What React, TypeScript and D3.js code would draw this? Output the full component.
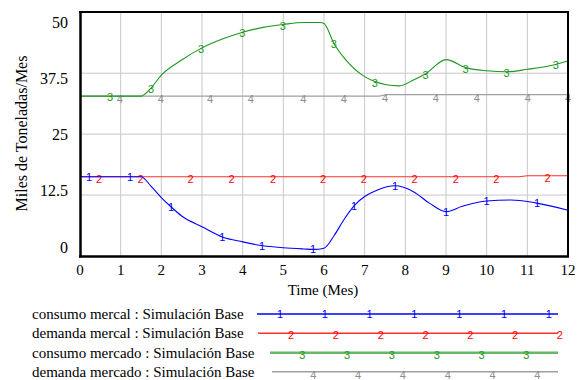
import React from "react";
import * as d3 from "d3";

const xTicks = [0, 1, 2, 3, 4, 5, 6, 7, 8, 9, 10, 11, 12];
const yTicks = [0, 12.5, 25, 37.5, 50];
const yTickLabels = ["0", "12.5", "25", "37.5", "50"];

const blueT = [0, 1.5, 1.75, 2, 2.25, 2.5, 3, 3.5, 4, 4.5, 5, 5.5, 5.75, 6, 6.25, 6.5, 6.75, 7, 7.3, 7.75, 8.2, 8.6, 9, 9.4, 10, 10.6, 11.2, 12];
const blueV = [16.25, 16.25, 14.3, 12.0, 10.0, 8.2, 6.0, 3.9, 2.9, 2.1, 1.7, 1.45, 1.35, 1.6, 4.2, 7.6, 10.4, 12.2, 13.5, 14.4, 13.2, 10.8, 9.1, 10.2, 11.3, 11.5, 10.9, 9.4];
const redT = [0, 10.8, 11, 12];
const redV = [16.25, 16.25, 16.45, 16.45];
const greenT = [0, 1.5, 1.75, 2, 2.5, 3, 3.5, 4, 4.5, 5, 5.5, 5.9, 6, 6.25, 6.5, 7, 7.25, 7.5, 7.85, 8.2, 8.5, 9, 9.5, 10, 10.5, 11, 11.7, 12];
const greenV = [32.8, 32.8, 34.5, 37.1, 40.2, 42.7, 44.5, 45.9, 46.9, 47.5, 47.9, 47.9, 47.7, 43.5, 40.6, 36.8, 35.8, 35.2, 34.9, 36.1, 37.4, 40.3, 38.6, 38.0, 37.8, 38.3, 39.3, 40.0];
const grayT = [0, 7.35, 7.55, 12];
const grayV = [32.8, 32.8, 33.1, 33.1];

const blueMarks = [0.22, 1.23, 2.24, 3.5, 4.48, 5.73, 6.74, 7.75, 9.0, 10.0, 11.24];
const redMarks = [0.47, 1.49, 2.72, 3.73, 4.75, 5.98, 6.98, 8.23, 9.24, 10.24, 11.5];
const greenMarks = [0.74, 1.75, 2.98, 3.99, 4.99, 6.24, 7.25, 8.5, 9.48, 10.49, 11.7];
const grayMarks = [0.98, 1.99, 3.2, 4.2, 5.49, 6.49, 7.5, 8.75, 9.76, 11.01, 12];

const legendLabels = [
  "consumo mercal : Simulación Base",
  "demanda mercal : Simulación Base",
  "consumo mercado : Simulación Base",
  "demanda mercado : Simulación Base",
];

const serif = "'Liberation Serif', 'Times New Roman', serif";
const sans = "'Liberation Sans', Arial, sans-serif";

const series = [
  { t: grayT, v: grayV, marks: grayMarks, digit: "4", color: "#a0a0a0", mcolor: "#8c8c8c", dy: 3, w: 1.2 },
  { t: greenT, v: greenV, marks: greenMarks, digit: "3", color: "#1e961e", mcolor: "#1e961e", dy: 1, w: 1.1 },
  { t: redT, v: redV, marks: redMarks, digit: "2", color: "#ff3030", mcolor: "#ff0000", dy: 2.5, w: 1.1 },
  { t: blueT, v: blueV, marks: blueMarks, digit: "1", color: "#0000ff", mcolor: "#0000ff", dy: 0, w: 1.1 },
];

const legendStyle = [
  { color: "#0000ff", w: 1.5, digit: "1", x0: 257, y: 314, off: 0, dy: 0, mcolor: "#0000ff" },
  { color: "#ff3030", w: 1.5, digit: "2", x0: 258, y: 333.3, off: 11.1, dy: 2, mcolor: "#ff0000" },
  { color: "#66b866", w: 2.6, digit: "3", x0: 270, y: 352.7, off: 22.3, dy: 2, mcolor: "#1e961e" },
  { color: "#a0a0a0", w: 1.5, digit: "4", x0: 272, y: 371.7, off: 33.3, dy: 3, mcolor: "#8c8c8c" },
];

export default function App() {
  const x = d3.scaleLinear().domain([0, 12]).range([80, 568]);
  const y = d3.scaleLinear().domain([0, 50]).range([256, 12.3]);
  const yLab = d3.scaleLinear().domain([0, 50]).range([247, 22]);

  const line = d3
    .line<[number, number]>()
    .x((d) => x(d[0]))
    .y((d) => y(d[1]))
    .curve(d3.curveMonotoneX);

  return (
    <svg width={581} height={380} style={{ position: "absolute", left: 0, top: 0, background: "#fff" }}>
      <rect width={581} height={380} fill="#fff" />
      {/* grid */}
      {xTicks.slice(1, -1).map((t) => (
        <line key={"gx" + t} x1={x(t)} x2={x(t)} y1={12} y2={256} stroke="#c8c8c8" strokeWidth={1} />
      ))}
      {yTicks.slice(1, -1).map((t) => (
        <line key={"gy" + t} x1={80} x2={568} y1={y(t)} y2={y(t)} stroke="#c8c8c8" strokeWidth={1} />
      ))}
      {/* series */}
      {series.map((s, i) => {
        const pts: [number, number][] = s.t.map((t, j) => [t, s.v[j]]);
        const interp = d3.scaleLinear().domain(s.t).range(s.v);
        return (
          <g key={"s" + i}>
            <path d={line(pts) || ""} fill="none" stroke={s.color} strokeWidth={s.w} />
            {s.marks.map((m, j) => (
              <text
                key={j}
                x={x(m)}
                y={y(interp(m)) + s.dy}
                fill={s.mcolor}
                fontFamily={sans}
                fontSize={11}
                textAnchor="middle"
                dominantBaseline="central"
              >
                {s.digit}
              </text>
            ))}
          </g>
        );
      })}
      {/* frame */}
      <line x1={79} x2={569} y1={12} y2={12} stroke="#000" strokeWidth={2} />
      <line x1={568} x2={568} y1={11} y2={257} stroke="#000" strokeWidth={2} />
      <line x1={80.5} x2={80.5} y1={11} y2={257.5} stroke="#000" strokeWidth={2.5} />
      <line x1={79} x2={569} y1={256.5} y2={256.5} stroke="#000" strokeWidth={2.5} />
      {/* ticks */}
      {xTicks.map((t) => (
        <text key={"xt" + t} x={x(t)} y={274.5} textAnchor="middle" fontFamily={serif} fontSize={15} fill="#000">
          {t}
        </text>
      ))}
      {yTicks.map((t, i) => (
        <text key={"yt" + t} x={68} y={yLab(t) + 5.5} textAnchor="end" fontFamily={serif} fontSize={16} fill="#000">
          {yTickLabels[i]}
        </text>
      ))}
      <text x={323} y={295} textAnchor="middle" fontFamily={serif} fontSize={15} fill="#000">
        Time (Mes)
      </text>
      <text
        transform="translate(21,133.5) rotate(-90)"
        textAnchor="middle"
        dominantBaseline="central"
        fontFamily={serif}
        fontSize={16}
        fill="#000"
      >
        Miles de Toneladas/Mes
      </text>
      {/* legend */}
      {legendLabels.map((lab, i) => {
        const ls = legendStyle[i];
        const n = i < 2 ? 7 : 6;
        return (
          <g key={"lg" + i}>
            <text x={32} y={ls.y + 5} fontFamily={serif} fontSize={15} fill="#000">
              {lab}
            </text>
            <line x1={ls.x0} x2={558} y1={ls.y} y2={ls.y} stroke={ls.color} strokeWidth={ls.w} />
            {d3.range(n).map((k) => (
              <text
                key={k}
                x={280 + ls.off + k * 44.8}
                y={ls.y + ls.dy}
                fill={ls.mcolor}
                fontFamily={sans}
                fontSize={11}
                textAnchor="middle"
                dominantBaseline="central"
              >
                {ls.digit}
              </text>
            ))}
          </g>
        );
      })}
    </svg>
  );
}
